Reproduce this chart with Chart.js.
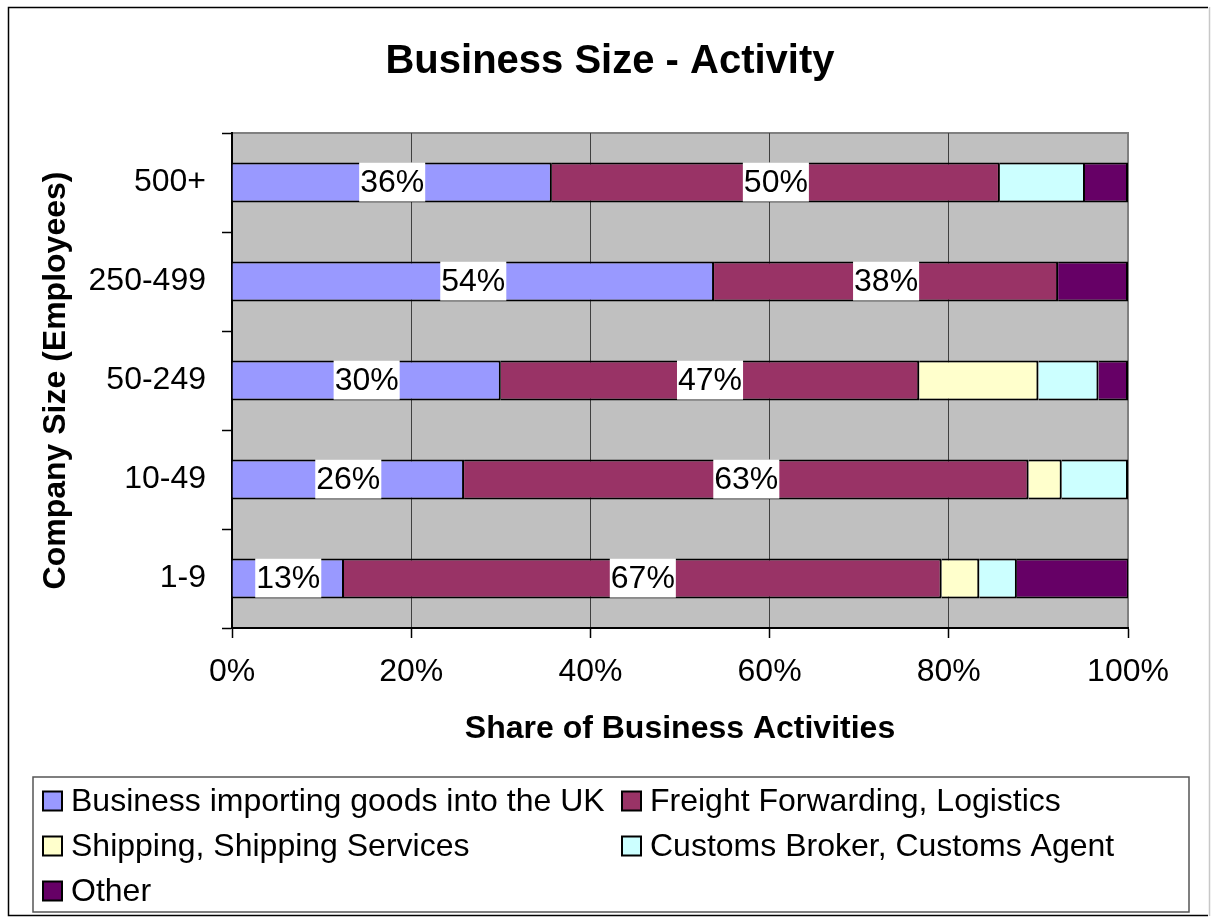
<!DOCTYPE html>
<html>
<head>
<meta charset="utf-8">
<title>Business Size - Activity</title>
<script src="https://cdn.jsdelivr.net/npm/chart.js@4/dist/chart.umd.min.js"></script>
<style>
  html, body { margin: 0; padding: 0; background: #ffffff; }
  #wrap { width: 1211px; height: 917px; position: relative; }
  canvas { display: block; }
</style>
</head>
<body>
<div id="wrap"><canvas id="chart" width="1211" height="917"></canvas></div>
<script>
// Company size bands (employees), top to bottom
const companySizes = ['500+', '250-499', '50-249', '10-49', '1-9'];

// Share of business activities per size band, in percent
const importers = [35.7, 53.8, 30.0, 25.9, 12.5];
const freight   = [50.0, 38.4, 46.7, 63.0, 66.7];
const shipping  = [0.0,  0.0,  13.3, 3.7,  4.2];
const customs   = [9.5,  0.0,  6.7,  7.4,  4.2];
const other     = [4.8,  7.8,  3.3,  0.0,  12.5];

const seriesNames = [
  'Business importing goods into the UK',
  'Freight Forwarding, Logistics',
  'Shipping, Shipping Services',
  'Customs Broker, Customs Agent',
  'Other'
];
const seriesColors = ['#9999FF', '#993366', '#FFFFCC', '#CCFFFF', '#660066'];

// Percent axis ticks
const xTickValues = [0, 20, 40, 60, 80, 100];

const FONT = "'Liberation Sans', Arial, Helvetica, sans-serif";
const TEXT_SIZE = 32;
Chart.defaults.font.family = FONT;
Chart.defaults.color = '#000000';

const seriesValues = [importers, freight, shipping, customs, other];
const datasets = seriesValues.map((vals, i) => ({
  label: seriesNames[i],
  data: vals,
  backgroundColor: seriesColors[i],
  borderColor: '#000000',
  borderWidth: 2,
  barPercentage: 0.405,
  categoryPercentage: 1.0,
  showValueLabel: i < 2
}));

// Grey plot area with its frame
const plotBackground = {
  id: 'plotBackground',
  beforeDraw(chart) {
    const { ctx, chartArea: a } = chart;
    ctx.save();
    ctx.fillStyle = '#C0C0C0';
    ctx.fillRect(a.left, a.top, a.right - a.left, a.bottom - a.top);
    ctx.strokeStyle = '#808080';
    ctx.lineWidth = 2;
    ctx.beginPath();
    ctx.moveTo(a.left, a.top);
    ctx.lineTo(a.right, a.top);
    ctx.lineTo(a.right, a.bottom);
    ctx.stroke();
    ctx.restore();
  }
};

// White boxed percentage labels on the first two series
const valueLabels = {
  id: 'valueLabels',
  afterDatasetsDraw(chart) {
    const { ctx } = chart;
    ctx.save();
    ctx.font = TEXT_SIZE + 'px ' + FONT;
    ctx.textAlign = 'center';
    ctx.textBaseline = 'middle';
    chart.data.datasets.forEach((ds, di) => {
      if (!ds.showValueLabel) return;
      const meta = chart.getDatasetMeta(di);
      meta.data.forEach((el, idx) => {
        const v = ds.data[idx];
        if (!v) return;
        const text = Math.round(v) + '%';
        const cx = (el.x + el.base) / 2;
        const w = ctx.measureText(text).width + 2;
        const h = el.height;
        ctx.fillStyle = '#FFFFFF';
        ctx.fillRect(cx - w / 2, el.y - h / 2, w, h - 1);
        ctx.fillStyle = '#000000';
        ctx.fillText(text, cx, el.y + 1);
      });
    });
    ctx.restore();
  }
};

// Title, outer frame and boxed legend
const frameAndLegend = {
  id: 'frameAndLegend',
  afterDraw(chart) {
    const { ctx } = chart;
    ctx.save();

    // outer frame
    ctx.lineWidth = 1.5;
    ctx.strokeStyle = '#000000';
    ctx.beginPath();
    ctx.moveTo(1208, 7.5);
    ctx.lineTo(8.5, 7.5);
    ctx.lineTo(8.5, 915.5);
    ctx.lineTo(1208, 915.5);
    ctx.stroke();
    ctx.strokeStyle = '#C8C8C8';
    ctx.beginPath();
    ctx.moveTo(1209.5, 7);
    ctx.lineTo(1209.5, 916);
    ctx.stroke();

    // title
    ctx.fillStyle = '#000000';
    ctx.font = 'bold 40px ' + FONT;
    ctx.textAlign = 'center';
    ctx.textBaseline = 'middle';
    ctx.fillText('Business Size - Activity', 610, 62);

    // legend box
    ctx.strokeStyle = '#555555';
    ctx.lineWidth = 1.5;
    ctx.strokeRect(33, 777, 1156, 135);

    const colX = [43, 622];
    const rowY = [801, 846, 891];
    const box = 19;
    ctx.font = TEXT_SIZE + 'px ' + FONT;
    ctx.textAlign = 'left';
    ctx.textBaseline = 'middle';
    chart.data.datasets.forEach((ds, i) => {
      const x = colX[i % 2];
      const y = rowY[Math.floor(i / 2)];
      ctx.fillStyle = ds.backgroundColor;
      ctx.fillRect(x, y - box / 2, box, box);
      ctx.strokeStyle = '#000000';
      ctx.lineWidth = 2;
      ctx.strokeRect(x, y - box / 2, box, box);
      ctx.fillStyle = '#000000';
      ctx.fillText(ds.label, x + 28, y + 1);
    });
    ctx.restore();
  }
};

new Chart(document.getElementById('chart'), {
  type: 'bar',
  data: { labels: companySizes, datasets },
  plugins: [plotBackground, valueLabels, frameAndLegend],
  options: {
    indexAxis: 'y',
    responsive: false,
    animation: false,
    devicePixelRatio: 1,
    layout: { padding: { top: 133, left: 10, right: 83, bottom: 159 } },
    plugins: {
      legend: { display: false },
      title: { display: false },
      tooltip: { enabled: false }
    },
    scales: {
      x: {
        type: 'linear',
        stacked: true,
        min: 0,
        max: 100,
        afterBuildTicks(scale) {
          scale.ticks = xTickValues.map(v => ({ value: v }));
        },
        afterFit(scale) { scale.height = 130; },
        ticks: {
          callback: v => v + '%',
          font: { size: TEXT_SIZE },
          color: '#000000',
          padding: 15,
          maxRotation: 0
        },
        grid: {
          color: ctx => (ctx.tick && ctx.tick.value === 100 ? '#808080' : '#404040'),
          lineWidth: 1,
          tickLength: 10,
          tickColor: '#000000',
          tickWidth: 1.5
        },
        border: { display: true, color: '#000000', width: 2 },
        title: {
          display: true,
          text: 'Share of Business Activities',
          font: { size: TEXT_SIZE, weight: 'bold' },
          color: '#000000',
          padding: { top: 0, bottom: 10 }
        }
      },
      y: {
        type: 'category',
        stacked: true,
        afterFit(scale) { scale.width = 222; },
        ticks: {
          font: { size: TEXT_SIZE },
          color: '#000000',
          padding: 16
        },
        grid: {
          offset: true,
          drawOnChartArea: false,
          tickLength: 10,
          tickColor: '#000000',
          tickWidth: 1.5
        },
        border: { display: true, color: '#000000', width: 2 },
        title: {
          display: true,
          text: 'Company Size (Employees)',
          font: { size: TEXT_SIZE, weight: 'bold' },
          color: '#000000',
          padding: { top: 27, bottom: 0 }
        }
      }
    }
  }
});
</script>
</body>
</html>
